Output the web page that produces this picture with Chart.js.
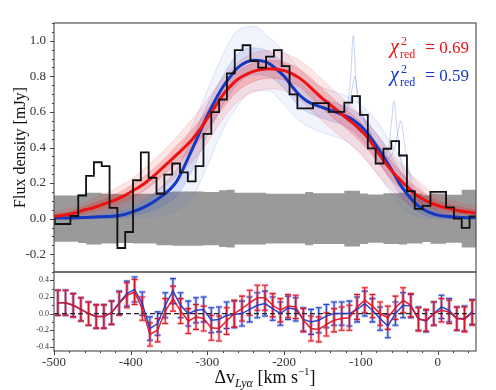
<!DOCTYPE html>
<html><head><meta charset="utf-8">
<script src="https://cdn.jsdelivr.net/npm/chart.js@4.4.0/dist/chart.umd.min.js"></script>
<style>
html,body{margin:0;padding:0;background:#fff;}
#wrap{position:relative;width:496px;height:390px;}
#wrap canvas{position:absolute;left:0;top:0;}
</style></head><body>
<div id="wrap"><canvas id="topc" width="496" height="390"></canvas><canvas id="botc" width="496" height="390"></canvas></div>
<script>
// ---------- DATA ----------
const binVel = [-504.1,-493.9,-483.7,-473.5,-463.3,-453.1,-442.9,-432.7,-422.5,-412.3,-402.1,-391.9,-381.7,-371.5,-361.3,-351.1,-340.9,-330.7,-320.5,-310.3,-300.1,-289.9,-279.7,-269.5,-259.3,-249.1,-238.9,-228.7,-218.5,-208.3,-198.1,-187.9,-177.7,-167.5,-157.3,-147.1,-136.9,-126.7,-116.5,-106.3,-96.1,-85.9,-75.7,-65.5,-55.3,-45.1,-34.9,-24.7,-14.5,-4.3,5.9,16.1,26.3,36.5,46.7,56.9];
const binFlux = [0.0,-0.03,-0.03,0.015,0.13,0.24,0.317,0.295,0.06,-0.165,-0.075,0.216,0.373,0.23,0.14,0.248,0.31,0.26,0.21,0.295,0.477,0.599,0.67,0.817,0.948,0.975,0.886,0.849,0.911,0.948,0.858,0.699,0.62,0.62,0.65,0.65,0.60,0.60,0.652,0.689,0.583,0.395,0.31,0.393,0.436,0.355,0.154,0.055,0.072,0.15,0.15,0.063,0.0,-0.052,0.013,0.013];
const binErr = [0.13,0.13,0.13,0.13,0.137,0.145,0.145,0.14,0.14,0.137,0.137,0.14,0.14,0.14,0.15,0.15,0.152,0.152,0.153,0.153,0.15,0.15,0.16,0.162,0.145,0.145,0.145,0.145,0.14,0.14,0.14,0.14,0.14,0.15,0.143,0.143,0.143,0.143,0.157,0.157,0.142,0.136,0.136,0.143,0.143,0.145,0.14,0.14,0.132,0.141,0.141,0.135,0.135,0.162,0.162,0.162];

const modelVel = [-500,-490,-480,-470,-460,-450,-440,-430,-420,-410,-400,-390,-380,-370,-360,-350,-340,-330,-320,-310,-300,-290,-280,-270,-260,-250,-240,-230,-220,-210,-200,-190,-180,-170,-160,-150,-140,-130,-120,-110,-100,-90,-80,-70,-60,-50,-40,-30,-20,-10,0,10,20,30,40,50];
const redFit = [0.012,0.018,0.025,0.035,0.05,0.06,0.075,0.09,0.105,0.125,0.15,0.175,0.205,0.24,0.28,0.32,0.36,0.40,0.445,0.5,0.565,0.63,0.695,0.745,0.785,0.81,0.828,0.838,0.843,0.84,0.832,0.815,0.79,0.755,0.715,0.675,0.64,0.605,0.57,0.535,0.495,0.45,0.385,0.325,0.27,0.222,0.18,0.14,0.112,0.09,0.074,0.062,0.052,0.043,0.037,0.032];
const blueFit = [0.003,0.003,0.004,0.005,0.006,0.008,0.01,0.012,0.015,0.022,0.035,0.05,0.07,0.095,0.125,0.16,0.21,0.295,0.39,0.485,0.58,0.665,0.74,0.8,0.85,0.878,0.89,0.888,0.873,0.84,0.8,0.745,0.695,0.66,0.64,0.625,0.61,0.595,0.578,0.555,0.52,0.47,0.41,0.345,0.275,0.2,0.14,0.09,0.055,0.034,0.02,0.013,0.009,0.007,0.005,0.005];

const envVel = [-500,-480,-460,-440,-420,-400,-380,-360,-340,-320,-300,-280,-260,-240,-220,-200,-180,-160,-140,-120,-100,-80,-60,-40,-20,0,20,40,60];
const redOuterHi = [0.04,0.06,0.09,0.13,0.17,0.22,0.29,0.37,0.46,0.56,0.67,0.79,0.88,0.93,0.945,0.93,0.89,0.82,0.74,0.66,0.58,0.48,0.37,0.27,0.19,0.13,0.10,0.075,0.06];
const redInnerHi = [0.025,0.04,0.07,0.10,0.135,0.185,0.245,0.32,0.41,0.50,0.61,0.74,0.83,0.875,0.89,0.88,0.84,0.77,0.69,0.615,0.54,0.43,0.32,0.225,0.15,0.10,0.075,0.055,0.045];
const redInnerLo = [0.005,0.012,0.03,0.05,0.075,0.115,0.165,0.235,0.31,0.39,0.50,0.62,0.72,0.77,0.79,0.78,0.74,0.66,0.58,0.51,0.43,0.33,0.22,0.14,0.08,0.05,0.035,0.025,0.02];
const redOuterLo = [0.0,0.003,0.012,0.025,0.045,0.075,0.115,0.17,0.24,0.32,0.43,0.56,0.66,0.71,0.73,0.72,0.67,0.59,0.51,0.44,0.36,0.26,0.16,0.09,0.045,0.025,0.015,0.01,0.008];
const blueOuterHi = [0.01,0.015,0.025,0.04,0.065,0.11,0.17,0.25,0.36,0.52,0.72,0.92,1.06,1.08,1.02,0.94,0.84,0.76,0.72,0.69,0.64,0.55,0.42,0.28,0.16,0.08,0.04,0.02,0.015];
const blueInnerHi = [0.006,0.008,0.012,0.02,0.035,0.06,0.11,0.18,0.28,0.45,0.64,0.80,0.93,0.96,0.94,0.87,0.77,0.70,0.66,0.63,0.58,0.48,0.35,0.21,0.10,0.045,0.02,0.01,0.008];
const blueInnerLo = [0,0,0.001,0.003,0.006,0.015,0.035,0.07,0.13,0.27,0.47,0.64,0.76,0.81,0.80,0.73,0.63,0.58,0.55,0.52,0.45,0.34,0.21,0.09,0.025,0.006,0.002,0,0];
const blueOuterLo = [0,0,0,0,0,0.002,0.008,0.02,0.05,0.12,0.30,0.50,0.64,0.72,0.72,0.64,0.55,0.50,0.47,0.44,0.37,0.26,0.14,0.04,0.008,0,0,0,0];

// narrow-component blue samples
const spikeVelA = [-140,-125,-117,-113,-110,-107,-103,-95,-85];
const spikeFluxA = [0.63,0.61,0.66,0.82,1.03,0.82,0.66,0.55,0.47];
const spikeVelB = [-135,-122,-115,-111,-108,-105,-99,-90,-80];
const spikeFluxB = [0.62,0.60,0.65,0.74,0.80,0.72,0.60,0.50,0.42];
const spikeVelC = [-85,-72,-64,-60,-57,-54,-49,-40,-30];
const spikeFluxC = [0.44,0.36,0.40,0.55,0.66,0.55,0.36,0.2,0.12];
const spikeVelD = [-80,-65,-56,-51,-48,-45,-40,-32,-20];
const spikeFluxD = [0.42,0.34,0.40,0.50,0.55,0.48,0.33,0.17,0.07];

const resVel = [-495,-485,-475,-465,-455,-445,-435,-425,-415,-405,-395,-385,-375,-365,-355,-345,-335,-325,-315,-305,-295,-285,-275,-265,-255,-245,-235,-225,-215,-205,-195,-185,-175,-165,-155,-145,-135,-125,-115,-105,-95,-85,-75,-65,-55,-45,-35,-25,-15,-5,5,15,25,35,45];
const redRes = [0.13,0.13,0.10,0.05,0.0,-0.035,-0.035,0.01,0.12,0.22,0.26,0.06,-0.25,-0.20,0.03,0.18,0.03,-0.09,-0.04,-0.06,-0.17,-0.18,-0.09,0.0,0.06,0.13,0.19,0.19,0.10,0.04,0.09,0.08,-0.08,-0.18,-0.19,-0.13,-0.08,-0.06,-0.05,0.08,0.16,0.09,0.0,-0.05,0.07,0.16,0.10,-0.07,-0.08,0.0,0.04,0.02,-0.06,-0.07,0.01];
const blueRes = [0.13,0.13,0.10,0.05,0.0,-0.035,-0.035,0.01,0.13,0.24,0.29,0.12,-0.18,-0.12,0.10,0.27,0.10,0.0,0.04,0.05,-0.08,-0.07,-0.02,-0.01,0.0,0.05,0.10,0.12,0.06,0.0,0.07,0.05,-0.07,-0.10,-0.08,-0.03,0.0,0.0,0.0,0.05,0.12,0.04,-0.06,-0.15,0.0,0.10,0.09,-0.06,-0.09,0.0,0.08,0.04,-0.06,-0.06,0.02];
const resErr = [0.15,0.15,0.14,0.14,0.14,0.14,0.14,0.14,0.14,0.15,0.15,0.14,0.14,0.14,0.15,0.15,0.15,0.15,0.15,0.15,0.15,0.15,0.16,0.16,0.15,0.15,0.15,0.15,0.14,0.14,0.14,0.14,0.14,0.15,0.15,0.14,0.14,0.14,0.15,0.15,0.15,0.14,0.14,0.14,0.14,0.15,0.14,0.14,0.13,0.14,0.14,0.14,0.14,0.15,0.15];

const topYTicks = [-0.2,0.0,0.2,0.4,0.6,0.8,1.0];
const botYTicks = [-0.4,-0.2,0.0,0.2,0.4];
const xTicks = [-500,-400,-300,-200,-100,0];
const chiRedLabel = '0.69';
const chiBlueLabel = '0.59';

// ---------- RENDER ----------
const FONT = "'Liberation Serif','Times New Roman',serif";
const RED = '#ee1111', BLUE = '#1238c4';
const P = (xs, ys) => xs.map((x, i) => ({x, y: ys[i]}));

function line(data, color, width, order, extra) {
  return Object.assign({data, borderColor: color, borderWidth: width, pointRadius: 0, fill: false, order}, extra || {});
}

const frameTicks = {
  id: 'frameTicks',
  afterDraw(chart, args, opts) {
    const ctx = chart.ctx, a = chart.chartArea;
    const xs = chart.scales.x, ys = chart.scales.y;
    ctx.save();
    ctx.strokeStyle = '#555'; ctx.lineWidth = 1.2;
    ctx.strokeRect(a.left, a.top, a.right - a.left, a.bottom - a.top);
    ctx.strokeStyle = '#444'; ctx.lineWidth = 1;
    ctx.beginPath();
    if (opts.yMinor) {
      const [lo, hi, st, maj] = opts.yMinor;
      for (let k = 0; lo + k * st <= hi + 1e-9; k++) {
        const v = lo + k * st;
        const isMaj = Math.abs(v / maj - Math.round(v / maj)) < 1e-6;
        const y = Math.round(ys.getPixelForValue(v)) + 0.5;
        ctx.moveTo(a.left, y); ctx.lineTo(a.left - (isMaj ? 4 : 2), y);
      }
    }
    if (opts.xMinor) {
      const [lo, hi, st, maj] = opts.xMinor;
      for (let k = 0; lo + k * st <= hi + 1e-9; k++) {
        const v = lo + k * st;
        const isMaj = Math.abs(v / maj - Math.round(v / maj)) < 1e-6;
        const x = Math.round(xs.getPixelForValue(v)) + 0.5;
        ctx.moveTo(x, a.bottom); ctx.lineTo(x, a.bottom + (isMaj ? 4 : 2));
      }
    }
    ctx.stroke();
    ctx.restore();
  }
};

const chiText = {
  id: 'chiText',
  afterDraw(chart) {
    const ctx = chart.ctx;
    ctx.save();
    ctx.textBaseline = 'alphabetic';
    const draw = (col, base, val) => {
      ctx.fillStyle = col;
      ctx.textAlign = 'left';
      ctx.font = 'italic 20px ' + FONT; ctx.fillText('\u03C7', 390, base);
      ctx.font = '12px ' + FONT; ctx.fillText('2', 401, base - 8);
      ctx.fillText('red', 400, base + 5);
      ctx.font = '18px ' + FONT; ctx.fillText('=', 425, base);
      ctx.font = '17px ' + FONT;
      ctx.textAlign = 'right'; ctx.fillText(val, 469, base);
    };
    draw(RED, 53, chiRedLabel);
    draw(BLUE, 81, chiBlueLabel);
    ctx.restore();
  }
};

const xTitle = {
  id: 'xTitle',
  afterDraw(chart) {
    const ctx = chart.ctx;
    ctx.save();
    ctx.fillStyle = '#111'; ctx.textAlign = 'left'; ctx.textBaseline = 'alphabetic';
    const parts = [
      ['\u0394v', '18px ' + FONT, 0],
      ['Ly\u03B1', 'italic 12px ' + FONT, 4],
      [' [km s', '18px ' + FONT, 0],
      ['\u22121', '11px ' + FONT, -8],
      [']', '18px ' + FONT, 0]
    ];
    let w = 0;
    parts.forEach(p => { ctx.font = p[1]; w += ctx.measureText(p[0]).width; });
    let x = 265 - w / 2; const base = 383;
    parts.forEach(p => { ctx.font = p[1]; ctx.fillText(p[0], x, base + p[2]); x += ctx.measureText(p[0]).width; });
    ctx.restore();
  }
};

const errBars = {
  id: 'errBars',
  beforeDatasetsDraw(chart) {
    const ctx = chart.ctx, xs = chart.scales.x, ys = chart.scales.y, a = chart.chartArea;
    ctx.save();
    ctx.beginPath(); ctx.rect(a.left, a.top, a.right - a.left, a.bottom - a.top); ctx.clip();
    const series = [[blueRes, 'rgba(40,80,210,0.35)', 'rgba(30,60,200,0.95)'], [redRes, 'rgba(240,60,70,0.35)', 'rgba(225,15,30,0.95)']];
    series.forEach(([vals, halo, core]) => {
      [[halo, 3], [core, 1.1]].forEach(([col, lw]) => {
        ctx.strokeStyle = col; ctx.lineWidth = lw;
        ctx.beginPath();
        resVel.forEach((v, i) => {
          const x = xs.getPixelForValue(v);
          const y1 = ys.getPixelForValue(vals[i] + resErr[i]);
          const y2 = ys.getPixelForValue(vals[i] - resErr[i]);
          ctx.moveTo(x, y1); ctx.lineTo(x, y2);
          ctx.moveTo(x - 3, y1); ctx.lineTo(x + 3, y1);
          ctx.moveTo(x - 3, y2); ctx.lineTo(x + 3, y2);
        });
        ctx.stroke();
      });
    });
    ctx.restore();
  }
};

const gUp = binErr.map(v => v);
const gLo = binErr.map(v => -v);

new Chart(document.getElementById('topc'), {
  type: 'line',
  data: {
    datasets: [
      line(P(binVel, binFlux), '#111', 1.8, 0, {stepped: 'middle'}),
      line(P(modelVel, redFit), RED, 3, 1, {cubicInterpolationMode: 'monotone'}),
      line(P(modelVel, blueFit), BLUE, 3, 2, {cubicInterpolationMode: 'monotone'}),
      line(P(spikeVelA, spikeFluxA), 'rgba(80,110,220,0.3)', 1, 3, {cubicInterpolationMode: 'monotone'}),
      line(P(spikeVelB, spikeFluxB), 'rgba(80,110,220,0.3)', 1, 3, {cubicInterpolationMode: 'monotone'}),
      line(P(spikeVelC, spikeFluxC), 'rgba(80,110,220,0.3)', 1, 3, {cubicInterpolationMode: 'monotone'}),
      line(P(spikeVelD, spikeFluxD), 'rgba(80,110,220,0.3)', 1, 3, {cubicInterpolationMode: 'monotone'}),
      line(P(envVel, redInnerHi), 'rgba(235,40,40,0.25)', 0.8, 5, {cubicInterpolationMode: 'monotone', fill: 8, backgroundColor: 'rgba(235,30,30,0.20)'}),
      line(P(envVel, redInnerLo), 'rgba(235,40,40,0.25)', 0.8, 5, {cubicInterpolationMode: 'monotone'}),
      line(P(envVel, redOuterHi), 'rgba(235,60,60,0.2)', 0.8, 6, {cubicInterpolationMode: 'monotone', fill: 10, backgroundColor: 'rgba(235,50,50,0.12)'}),
      line(P(envVel, redOuterLo), 'rgba(235,60,60,0.2)', 0.8, 6, {cubicInterpolationMode: 'monotone'}),
      line(P(envVel, blueInnerHi), 'rgba(60,90,215,0.25)', 0.8, 7, {cubicInterpolationMode: 'monotone', fill: 12, backgroundColor: 'rgba(50,80,210,0.15)'}),
      line(P(envVel, blueInnerLo), 'rgba(60,90,215,0.25)', 0.8, 7, {cubicInterpolationMode: 'monotone'}),
      line(P(envVel, blueOuterHi), 'rgba(80,110,220,0.22)', 0.8, 8, {cubicInterpolationMode: 'monotone', fill: 14, backgroundColor: 'rgba(80,110,220,0.08)'}),
      line(P(envVel, blueOuterLo), 'rgba(80,110,220,0.22)', 0.8, 8, {cubicInterpolationMode: 'monotone'}),
      line(P(binVel, gUp), 'rgba(0,0,0,0)', 0, 20, {stepped: 'middle', fill: 16, backgroundColor: '#9a9a9a'}),
      line(P(binVel, gLo), 'rgba(0,0,0,0)', 0, 20, {stepped: 'middle'})
    ]
  },
  options: {
    responsive: false, animation: false, devicePixelRatio: 1,
    layout: {padding: {left: 0, right: 20, top: 23, bottom: 118}},
    plugins: {legend: {display: false}, tooltip: {enabled: false},
      frameTicks: {yMinor: [-0.3, 1.1, 0.05, 0.2]}},
    scales: {
      x: {type: 'linear', min: -500, max: 50, display: false},
      y: {type: 'linear', min: -0.3, max: 1.1,
        afterFit(s) { s.width = 54; },
        afterBuildTicks(s) { s.ticks = topYTicks.map(v => ({value: v})); },
        ticks: {callback: v => v.toFixed(1), font: {family: FONT, size: 13}, color: '#333', padding: 8},
        grid: {display: false, drawTicks: false}, border: {display: false},
        title: {display: true, text: 'Flux density [mJy]', font: {family: FONT, size: 16}, color: '#111', padding: {top: 11, bottom: 0}}
      }
    }
  },
  plugins: [frameTicks, chiText]
});

new Chart(document.getElementById('botc'), {
  type: 'line',
  data: {
    datasets: [
      line(P(resVel, redRes), 'rgba(225,20,35,0.95)', 1.5, 0),
      line(P(resVel, blueRes), 'rgba(30,60,200,0.95)', 1.5, 1),
      line([{x: -500, y: 0}, {x: 50, y: 0}], '#222', 1.4, 2, {borderDash: [5, 3]})
    ]
  },
  options: {
    responsive: false, animation: false, devicePixelRatio: 1,
    layout: {padding: {left: 0, right: 20, top: 272, bottom: 0}},
    plugins: {legend: {display: false}, tooltip: {enabled: false},
      frameTicks: {yMinor: [-0.4, 0.5, 0.1, 0.2], xMinor: [-500, 40, 20, 100]}},
    scales: {
      x: {type: 'linear', min: -500, max: 50,
        afterFit(s) { s.height = 39; },
        afterBuildTicks(s) { s.ticks = xTicks.map(v => ({value: v})); },
        ticks: {callback: v => String(v), font: {family: FONT, size: 13}, color: '#333', padding: 4, maxRotation: 0, autoSkip: false},
        grid: {display: false, drawTicks: false}, border: {display: false}
      },
      y: {type: 'linear', min: -0.45, max: 0.5,
        afterFit(s) { s.width = 54; },
        afterBuildTicks(s) { s.ticks = botYTicks.map(v => ({value: v})); },
        ticks: {callback: v => v.toFixed(1), font: {family: FONT, size: 8}, color: '#333', padding: 5},
        grid: {display: false, drawTicks: false}, border: {display: false}
      }
    }
  },
  plugins: [errBars, frameTicks, xTitle]
});
</script>
</body></html>
